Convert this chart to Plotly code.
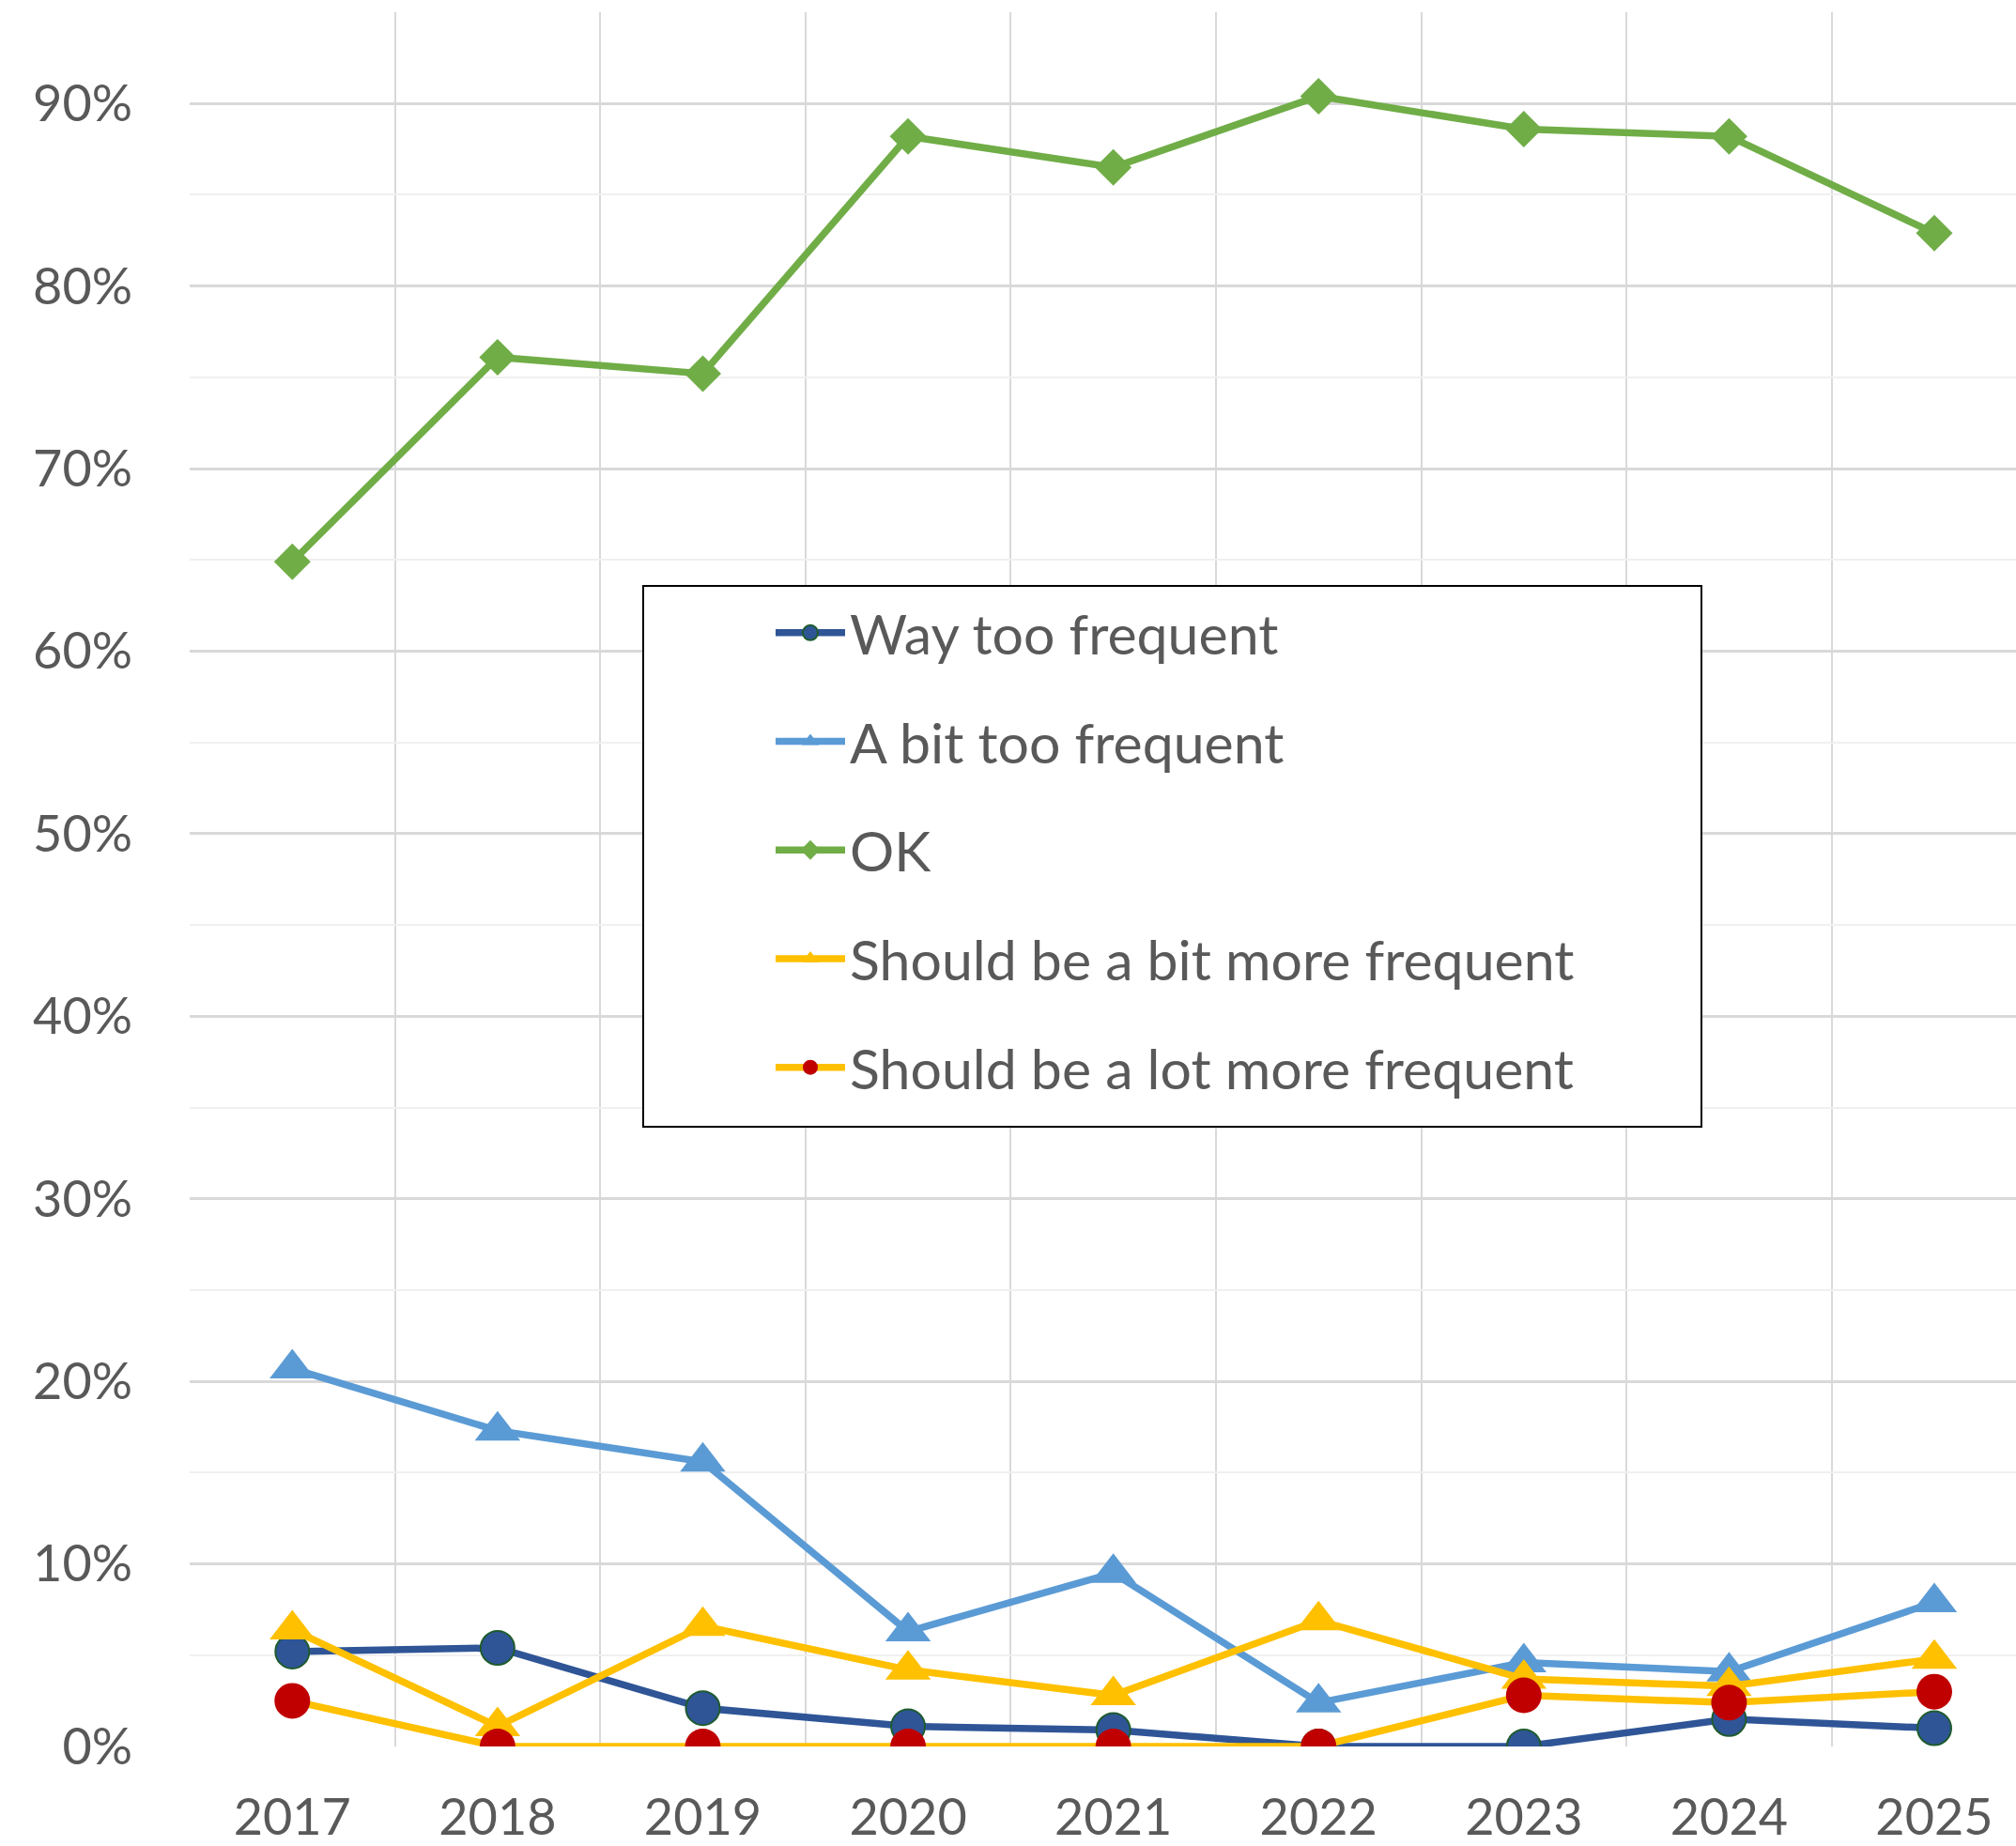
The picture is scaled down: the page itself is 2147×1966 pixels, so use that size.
import plotly.graph_objects as go

years = ["2017", "2018", "2019", "2020", "2021", "2022", "2023", "2024", "2025"]
way_too_frequent = [0.052, 0.054, 0.021, 0.011, 0.009, 0.0, 0.0, 0.015, 0.010]
a_bit_too_frequent = [0.207, 0.173, 0.156, 0.063, 0.095, 0.024, 0.046, 0.041, 0.079]
ok = [0.649, 0.761, 0.752, 0.882, 0.865, 0.904, 0.886, 0.882, 0.829]
bit_more_frequent = [0.064, 0.011, 0.066, 0.042, 0.028, 0.069, 0.037, 0.033, 0.048]
lot_more_frequent = [0.025, 0.0, 0.0, 0.0, 0.0, 0.0, 0.028, 0.024, 0.030]
y_ticks = [0, 0.1, 0.2, 0.3, 0.4, 0.5, 0.6, 0.7, 0.8, 0.9]
y_ticktext = ["0%", "10%", "20%", "30%", "40%", "50%", "60%", "70%", "80%", "90%"]

series = [
    ("Way too frequent", way_too_frequent, "#2F5597", dict(symbol="circle", size=36, color="#2F5597", line=dict(color="#1E5B2E", width=2))),
    ("A bit too frequent", a_bit_too_frequent, "#5B9BD5", dict(symbol="triangle-up", size=42, color="#5B9BD5")),
    ("OK", ok, "#70AD47", dict(symbol="diamond", size=30, color="#70AD47")),
    ("Should be a bit more frequent", bit_more_frequent, "#FFC000", dict(symbol="triangle-up", size=42, color="#FFC000")),
    ("Should be a lot more frequent", lot_more_frequent, "#FFC000", dict(symbol="circle", size=38, color="#C00000")),
]

x_idx = list(range(len(years)))
fig = go.Figure()
for i, (name, vals, lc, mk) in enumerate(series):
    fig.add_trace(go.Scatter(
        x=x_idx, y=vals, name=name, mode="lines+markers",
        line=dict(color=lc, width=7.5), marker=mk, legendgroup=f"g{i}",
    ))

W, H = 2147, 1966
ml, mr, mt, mb = 202, 0, 13, 106
pw = W - ml - mr
ph = H - mt - mb

def px_to_paper_x(px):
    return (px - ml) / pw

def px_to_paper_y(py):
    return (H - mb - py) / ph

fig.add_shape(type="rect", xref="paper", yref="paper",
              x0=px_to_paper_x(685), x1=px_to_paper_x(1812),
              y0=px_to_paper_y(1200), y1=px_to_paper_y(624),
              line=dict(color="black", width=2), fillcolor="white", layer="above")

fig.update_layout(
    width=W, height=H,
    margin=dict(l=ml, r=mr, t=mt, b=mb, autoexpand=False),
    paper_bgcolor="white", plot_bgcolor="white",
    font=dict(family="Lato", size=54, color="#595959"),
    showlegend=True,
    legend=dict(
        x=px_to_paper_x(821), y=px_to_paper_y(629), xanchor="left", yanchor="top",
        bgcolor="rgba(0,0,0,0)", borderwidth=0, tracegroupgap=36, itemwidth=74,
        font=dict(family="Lato", size=59, color="#595959"),
    ),
    xaxis=dict(
        range=[-0.5, 8.398], tickmode="array", tickvals=x_idx, ticktext=years,
        showgrid=False, zeroline=False, showline=False, ticks="", automargin=False,
        ticklabelstandoff=39,
        minor=dict(tickmode="array", tickvals=[k - 0.5 for k in range(10)],
                   showgrid=True, gridcolor="#D9D9D9", gridwidth=2, ticks=""),
    ),
    yaxis=dict(
        range=[0, 0.95], tickmode="array", tickvals=y_ticks, ticktext=y_ticktext,
        showgrid=True, gridcolor="#D9D9D9", gridwidth=3, zeroline=False, automargin=False,
        showline=False, ticks="", ticklabelstandoff=60,
        minor=dict(tickmode="array", tickvals=[0.05, 0.15, 0.25, 0.35, 0.45, 0.55, 0.65, 0.75, 0.85, 0.95],
                   showgrid=True, gridcolor="#F0F0F0", gridwidth=2, ticks=""),
    ),
)

fig.write_html("out.html", config={"displayModeBar": False},
               post_script="document.body.style.margin='0';document.body.style.overflow='hidden';")
